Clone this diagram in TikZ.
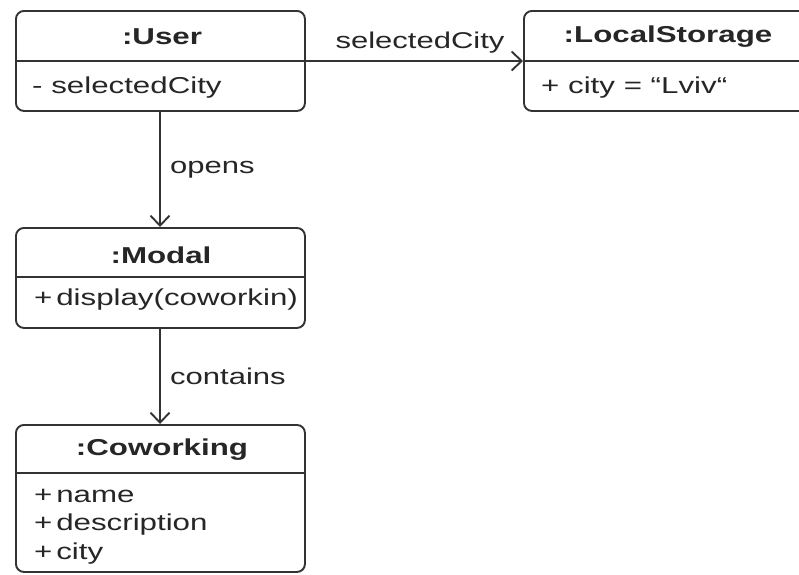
\documentclass[tikz,border=0pt]{standalone}
\usepackage{fontspec}
\setmainfont{Liberation Sans}[FakeStretch=1.36]
\usetikzlibrary{arrows.meta}
\definecolor{ink}{HTML}{262626}
\definecolor{edge}{HTML}{333333}
\tikzset{
  objbox/.style={draw=edge, line width=1.9pt, rounded corners=8pt, anchor=north west, inner sep=0pt},
  divider/.style={draw=edge, line width=1.7pt},
  title/.style={text=ink, font=\fontsize{23}{26}\selectfont\bfseries, inner sep=0pt},
  attr/.style={text=ink, font=\fontsize{23}{26}\selectfont, inner sep=0pt, anchor=west},
  lbl/.style={text=ink, font=\fontsize{22.8}{26}\selectfont, inner sep=0pt},
  link/.style={draw=edge, line width=1.9pt, -{Straight Barb[length=10pt,width=19pt,line width=1.9pt]}},
}
\begin{document}
\begin{tikzpicture}[x=1pt, y=-1pt]
\clip (0,0) rectangle (799,574);
\fill[white] (0,0) rectangle (799,574);

% object boxes
\node[objbox, minimum width=289pt, minimum height=100pt] (user) at (15,10) {};
\node[objbox, minimum width=300pt, minimum height=100pt] (store) at (523,10) {};
\node[objbox, minimum width=289pt, minimum height=100pt] (modal) at (15,227) {};
\node[objbox, minimum width=289pt, minimum height=147pt] (cow) at (15,424) {};

% compartment dividers
\draw[divider] (15,61) -- (304,61);
\draw[divider] (523,61) -- (823,61);
\draw[divider] (15,277) -- (304,277);
\draw[divider] (15,473) -- (304,473);

% titles
\node[title] (userT) at (162,37) {:User};
\node[title] (storeT) at (668,37) {:LocalStorage};
\node[title] (modalT) at (161,255) {:Modal};
\node[title] (cowT) at (162,450) {:Coworking};

% attributes and operations
\node[attr] (userA) at (32,88) {- selectedCity};
\node[attr] (storeA) at (541,88) {+ city = “Lviv“};
\node[attr] (modalA) at (34,300) {+\,display(coworkin)};
\node[attr] (cowA1) at (34,496) {+\,name};
\node[attr] (cowA2) at (34,525) {+\,description};
\node[attr] (cowA3) at (34,554) {+\,city};

% links
\coordinate (userR) at (304,61);
\coordinate (storeL) at (523,61);
\draw[link] (userR) -- (storeL);
\draw[link] (160,110) coordinate (userB) -- (160,227) coordinate (modalTop);
\draw[link] (160,327) coordinate (modalB) -- (160,424) coordinate (cowTop);

% link labels
\node[lbl] (selLbl) at (420,43) {selectedCity};
\node[lbl, anchor=west] (opensLbl) at (170,170) {opens};
\node[lbl, anchor=west] (containsLbl) at (170,376) {contains};
\end{tikzpicture}
\end{document}
